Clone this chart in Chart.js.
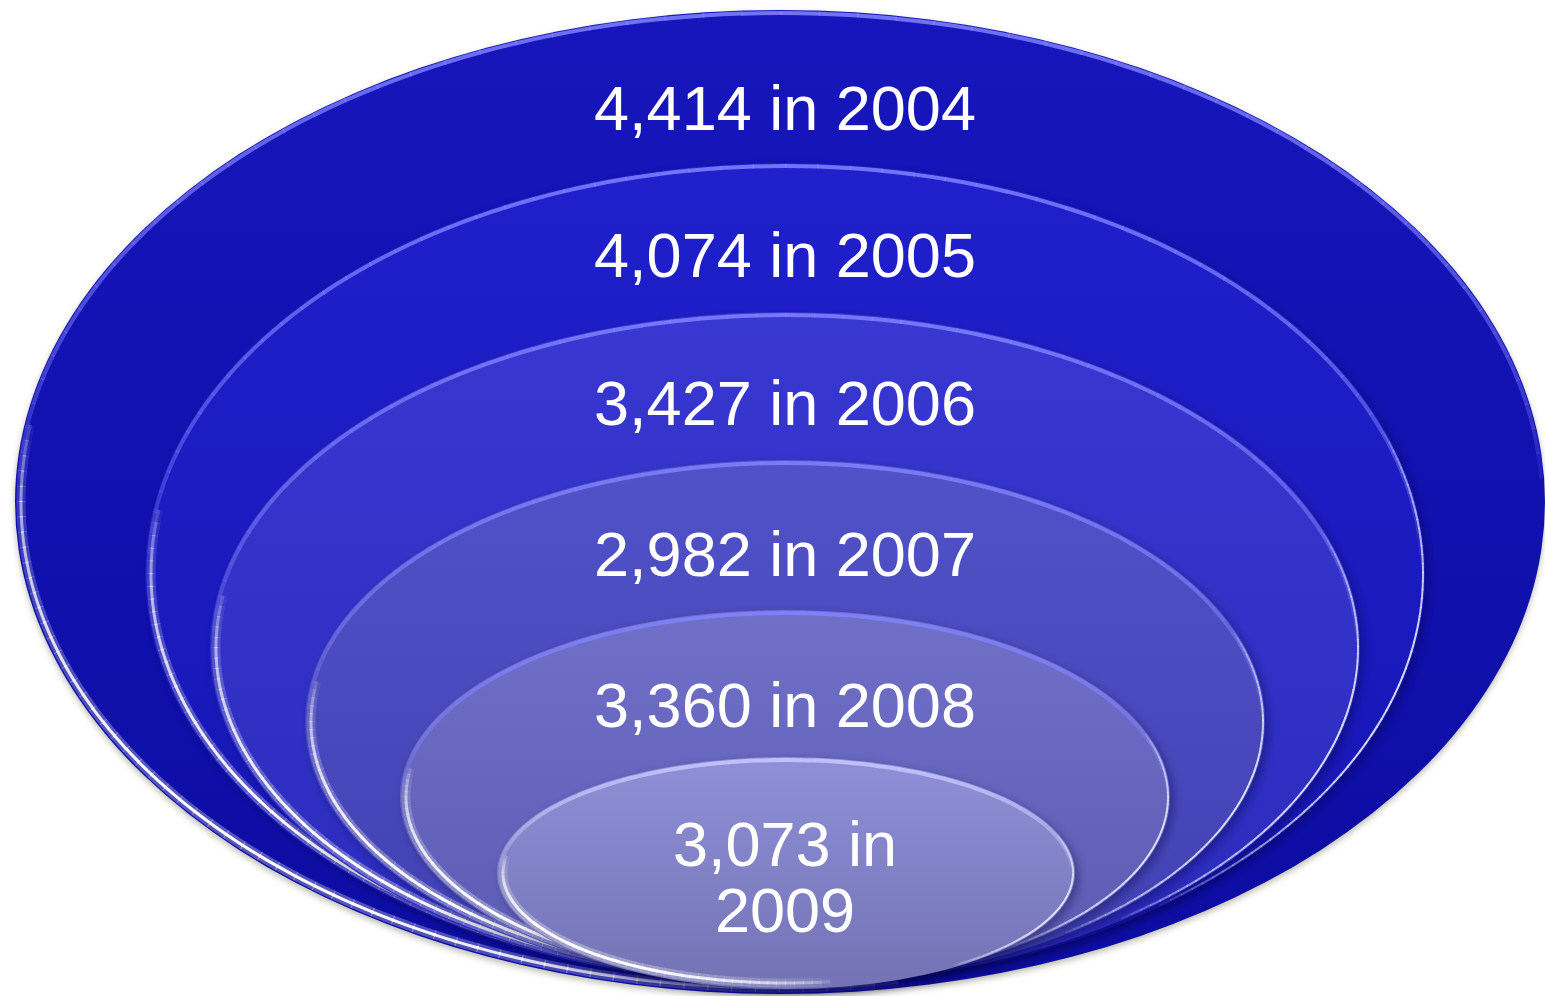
<!DOCTYPE html>
<html>
<head>
<meta charset="utf-8">
<script src="https://cdn.jsdelivr.net/npm/chart.js@4.4.1/dist/chart.umd.min.js"></script>
<style>
  html, body { margin: 0; padding: 0; background: #ffffff; }
  #wrap { width: 1545px; height: 996px; }
</style>
</head>
<body>
<div id="wrap"><canvas id="rings"></canvas></div>
<script>
// data
const years = [2004, 2005, 2006, 2007, 2008, 2009];
const counts = [4414, 4074, 3427, 2982, 3360, 3073];

// layout of the nested ellipses (page pixels)
const ringCx = [780, 785, 785, 785, 785, 786];
const ringCy = [502, 574, 648, 722, 797, 873];
const ringRx = [765, 640, 575, 480, 385, 289];
const ringRy = [492, 411, 336, 262, 187, 116];
const labelY = [130, 277, 425, 576, 727, 866];

const ringTop = ["#1616bc", "#2020cc", "#3838d2", "#5252c8", "#7070c8", "#9090d8"];
const ringBottom = ["#0c0ca2", "#1515b2", "#2a2abb", "#4040b2", "#5a5ab2", "#7272b4"];

function labelLines(i) {
  const num = counts[i].toLocaleString("en-US");
  if (i === years.length - 1) return [num + " in", String(years[i])];
  return [num + " in " + years[i]];
}

// arc that fades in and out at its ends
function rim(ctx, cx, cy, rx, ry, a0, a1, rgb, alpha, width) {
  const n = 60;
  ctx.lineWidth = width;
  ctx.lineCap = "butt";
  for (let k = 0; k < n; k++) {
    const t0 = a0 + (a1 - a0) * (k / n);
    const t1 = a0 + (a1 - a0) * ((k + 1) / n) + 0.002;
    const f = Math.sin(Math.PI * (k + 0.5) / n);
    ctx.beginPath();
    ctx.ellipse(cx, cy, rx, ry, 0, t0, t1);
    ctx.strokeStyle = "rgba(" + rgb + "," + (alpha * Math.pow(f, 0.5)).toFixed(3) + ")";
    ctx.stroke();
  }
}

const ringPlugin = {
  id: "rings",
  afterDatasetsDraw(chart) {
    const ctx = chart.ctx;
    const xs = chart.scales.x;
    const ys = chart.scales.y;

    chart.data.datasets.forEach((ds, i) => {
      const pt = chart.getDatasetMeta(i).data[0];
      const cx = pt.x;
      const cy = pt.y;
      const rx = xs.getPixelForValue(ringCx[i] + ringRx[i]) - cx;
      const ry = ys.getPixelForValue(ringCy[i] + ringRy[i]) - cy;

      ctx.save();
      if (i === 0) {
        ctx.shadowColor = "rgba(90,90,60,0.4)";
        ctx.shadowBlur = 6;
        ctx.shadowOffsetY = 3;
      } else {
        ctx.shadowColor = "rgba(0,0,60,0.35)";
        ctx.shadowBlur = 10;
        ctx.shadowOffsetX = 4;
        ctx.shadowOffsetY = 4;
      }
      const grad = ctx.createLinearGradient(0, cy - ry, 0, cy + ry);
      grad.addColorStop(0, ringTop[i]);
      grad.addColorStop(1, ringBottom[i]);
      ctx.beginPath();
      ctx.ellipse(cx, cy, rx, ry, 0, 0, Math.PI * 2);
      ctx.fillStyle = grad;
      ctx.fill();
      ctx.shadowColor = "transparent";

      // light rim along the top
      rim(ctx, cx, cy, rx - 3, ry - 3, Math.PI + 0.05, Math.PI * 2 - 0.05,
          i === 5 ? "200,200,255" : "130,130,255", 0.85, 4);

      // white rim along the lower left
      rim(ctx, cx, cy, rx - 6, ry - 6, Math.PI * 0.45, Math.PI * 1.05, "255,255,255", 0.3, 9);
      rim(ctx, cx, cy, rx - 6, ry - 6, Math.PI * 0.45, Math.PI * 1.05, "255,255,255", 1, 3);

      // thin rim on the right
      if (i > 0) {
        rim(ctx, cx, cy, rx - 2, ry - 2, -0.35, Math.PI * 0.3, "235,235,255", 0.9, 2);
      }
      ctx.restore();
    });

    // labels
    ctx.save();
    ctx.fillStyle = "#ffffff";
    ctx.font = "63px 'Liberation Sans', Arial, sans-serif";
    ctx.textAlign = "center";
    ctx.textBaseline = "alphabetic";
    years.forEach((y, i) => {
      const x = xs.getPixelForValue(785);
      labelLines(i).forEach((line, k) => {
        ctx.fillText(line, x, ys.getPixelForValue(labelY[i] + k * 66));
      });
    });
    ctx.restore();
  },
};

const chart = new Chart("rings", {
  type: "scatter",
  data: {
    datasets: years.map((y, i) => ({
      label: String(y),
      data: [{ x: ringCx[i], y: ringCy[i] }],
      pointRadius: 0,
    })),
  },
  options: {
    responsive: true,
    maintainAspectRatio: false,
    animation: false,
    layout: { padding: 0 },
    scales: {
      x: { type: "linear", min: 0, max: 1545, display: false },
      y: { type: "linear", min: 0, max: 996, reverse: true, display: false },
    },
    plugins: {
      legend: { display: false },
      tooltip: { enabled: false },
    },
  },
  plugins: [ringPlugin],
});
</script>
</body>
</html>
